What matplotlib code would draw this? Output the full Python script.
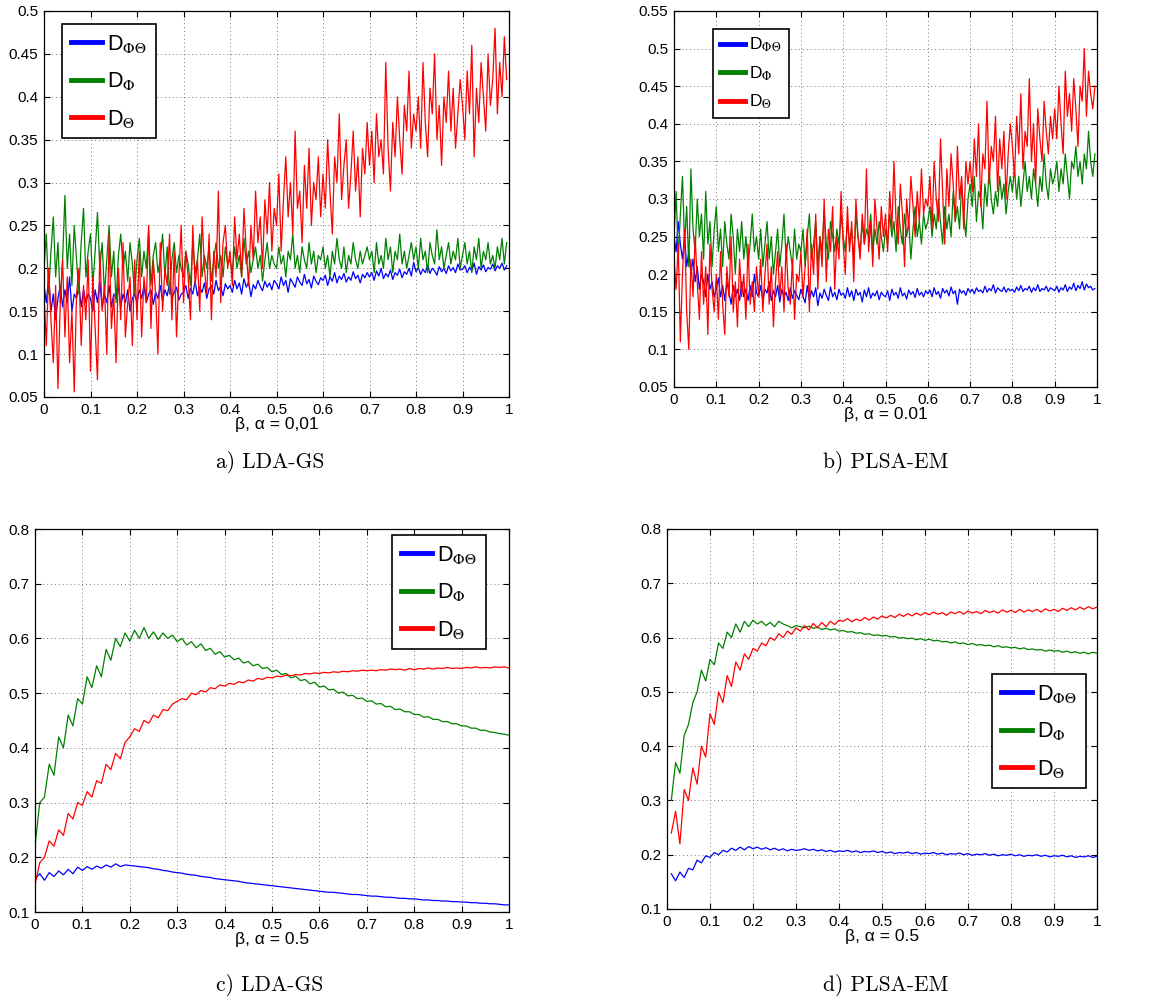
import numpy as np
import matplotlib
matplotlib.use("Agg")
import matplotlib.pyplot as plt

plt.rcParams["font.family"] = ["Liberation Sans", "DejaVu Sans"]
plt.rcParams["mathtext.fontset"] = "stix"

# ---------------- data ----------------
beta_top = np.round(np.arange(0, 200) * 0.005, 3)         # 0.000 .. 0.995
beta_c = np.round(np.arange(0, 101) * 0.01, 2)            # 0.00 .. 1.00
beta_d = np.round(np.arange(1, 101) * 0.01, 2)            # 0.01 .. 1.00

# a) LDA-GS, alpha = 0.01
a_phitheta = [
    0.18, 0.16, 0.19, 0.15, 0.17, 0.14, 0.165, 0.18, 0.155, 0.175, 0.16, 0.19, 0.15, 0.17, 0.165, 0.18, 0.155, 0.175, 0.16, 0.17,
    0.165, 0.15, 0.175, 0.16, 0.185, 0.155, 0.17, 0.16, 0.18, 0.155, 0.17, 0.165, 0.18, 0.155, 0.17, 0.16, 0.175, 0.15, 0.165, 0.17,
    0.16, 0.175, 0.165, 0.18, 0.16, 0.17, 0.175, 0.158, 0.172, 0.165, 0.18, 0.162, 0.175, 0.168, 0.183, 0.165, 0.172, 0.178, 0.163, 0.17,
    0.172, 0.18, 0.165, 0.177, 0.17, 0.185, 0.168, 0.178, 0.172, 0.183, 0.165, 0.176, 0.18, 0.17, 0.186, 0.174, 0.179, 0.168, 0.182, 0.176,
    0.18, 0.172, 0.186, 0.176, 0.183, 0.17, 0.188, 0.178, 0.184, 0.167, 0.181, 0.176, 0.186, 0.179, 0.174, 0.185, 0.178, 0.183, 0.175, 0.186,
    0.182, 0.176, 0.19, 0.18, 0.186, 0.172, 0.188, 0.183, 0.178, 0.19, 0.184, 0.18, 0.193, 0.182, 0.187, 0.177, 0.191, 0.185, 0.181, 0.189,
    0.186, 0.192, 0.18, 0.19, 0.185, 0.195, 0.183, 0.191, 0.187, 0.194, 0.184, 0.19, 0.186, 0.196, 0.188, 0.192, 0.183, 0.193, 0.189, 0.195,
    0.19, 0.195, 0.186, 0.197, 0.191, 0.2, 0.188, 0.194, 0.19, 0.198, 0.187, 0.195, 0.192, 0.199, 0.189, 0.196, 0.193, 0.2, 0.191, 0.207,
    0.196, 0.201, 0.193, 0.199, 0.195, 0.204, 0.194, 0.2, 0.197, 0.192, 0.202, 0.196, 0.2, 0.194, 0.203, 0.197, 0.201, 0.195, 0.205, 0.198,
    0.199, 0.203, 0.195, 0.201, 0.197, 0.206, 0.193, 0.202, 0.198, 0.204, 0.196, 0.201, 0.199, 0.205, 0.197, 0.203, 0.2, 0.206, 0.198, 0.203]
a_phi = [
    0.20, 0.24, 0.17, 0.22, 0.26, 0.19, 0.23, 0.16, 0.21, 0.285, 0.20, 0.24, 0.18, 0.25, 0.21, 0.17, 0.23, 0.27, 0.19, 0.22,
    0.24, 0.18, 0.22, 0.265, 0.20, 0.23, 0.17, 0.21, 0.25, 0.19, 0.22, 0.16, 0.215, 0.24, 0.20, 0.22, 0.185, 0.23, 0.205, 0.17,
    0.21, 0.235, 0.19, 0.22, 0.20, 0.245, 0.18, 0.215, 0.23, 0.195, 0.21, 0.24, 0.19, 0.225, 0.17, 0.21, 0.23, 0.195, 0.215, 0.20,
    0.19, 0.22, 0.205, 0.18, 0.23, 0.195, 0.21, 0.24, 0.19, 0.215, 0.20, 0.225, 0.185, 0.21, 0.23, 0.20, 0.215, 0.19, 0.225, 0.205,
    0.21, 0.195, 0.225, 0.20, 0.215, 0.19, 0.235, 0.205, 0.22, 0.195, 0.21, 0.225, 0.20, 0.215, 0.185, 0.21, 0.23, 0.20, 0.215, 0.205,
    0.20, 0.225, 0.205, 0.215, 0.19, 0.22, 0.21, 0.24, 0.20, 0.215, 0.195, 0.225, 0.21, 0.20, 0.23, 0.205, 0.22, 0.195, 0.215, 0.21,
    0.225, 0.20, 0.215, 0.19, 0.22, 0.205, 0.235, 0.21, 0.20, 0.225, 0.195, 0.215, 0.205, 0.23, 0.21, 0.20, 0.22, 0.205, 0.215, 0.225,
    0.21, 0.22, 0.195, 0.23, 0.205, 0.215, 0.20, 0.235, 0.21, 0.225, 0.195, 0.22, 0.21, 0.24, 0.205, 0.22, 0.20, 0.215, 0.23, 0.21,
    0.225, 0.20, 0.235, 0.21, 0.22, 0.195, 0.23, 0.215, 0.205, 0.245, 0.21, 0.225, 0.20, 0.215, 0.23, 0.205, 0.22, 0.21, 0.235, 0.20,
    0.215, 0.23, 0.205, 0.22, 0.195, 0.225, 0.21, 0.235, 0.20, 0.22, 0.21, 0.23, 0.205, 0.215, 0.20, 0.225, 0.21, 0.235, 0.205, 0.23]
a_theta = [
    0.17, 0.11, 0.20, 0.14, 0.09, 0.18, 0.06, 0.16, 0.21, 0.12, 0.19, 0.09, 0.15, 0.056, 0.17, 0.20, 0.11, 0.18, 0.14, 0.21,
    0.08, 0.19, 0.13, 0.07, 0.22, 0.15, 0.18, 0.10, 0.24, 0.13, 0.17, 0.09, 0.20, 0.14, 0.23, 0.12, 0.16, 0.19, 0.11, 0.21,
    0.14, 0.22, 0.12, 0.19, 0.16, 0.25, 0.13, 0.21, 0.17, 0.10, 0.23, 0.15, 0.20, 0.18, 0.24, 0.14, 0.22, 0.12, 0.19, 0.25,
    0.16, 0.22, 0.19, 0.14, 0.25, 0.18, 0.21, 0.15, 0.26, 0.20, 0.17, 0.24, 0.14, 0.22, 0.19, 0.29, 0.16, 0.23, 0.25, 0.20,
    0.22, 0.18, 0.26, 0.21, 0.24, 0.19, 0.27, 0.22, 0.18, 0.25, 0.21, 0.29, 0.23, 0.26, 0.20, 0.28, 0.24, 0.30, 0.22, 0.27,
    0.25, 0.31, 0.22, 0.28, 0.33, 0.26, 0.30, 0.24, 0.36, 0.27, 0.29, 0.23, 0.32, 0.27, 0.34, 0.25, 0.30, 0.28, 0.33, 0.26,
    0.31, 0.27, 0.35, 0.29, 0.24, 0.33, 0.30, 0.38, 0.28, 0.32, 0.35, 0.27, 0.31, 0.36, 0.29, 0.33, 0.26, 0.34, 0.31, 0.37,
    0.32, 0.36, 0.30, 0.38, 0.33, 0.35, 0.31, 0.44, 0.34, 0.29, 0.37, 0.33, 0.40, 0.35, 0.31, 0.39, 0.36, 0.43, 0.34, 0.38,
    0.36, 0.40, 0.34, 0.44, 0.37, 0.33, 0.41, 0.38, 0.45, 0.35, 0.39, 0.32, 0.40, 0.37, 0.43, 0.36, 0.41, 0.34, 0.38, 0.42,
    0.39, 0.35, 0.43, 0.38, 0.46, 0.33, 0.41, 0.37, 0.44, 0.40, 0.36, 0.45, 0.39, 0.42, 0.48, 0.38, 0.44, 0.40, 0.47, 0.42]

# b) PLSA-EM, alpha = 0.01
b_phitheta = [
    0.25, 0.23, 0.27, 0.24, 0.22, 0.25, 0.21, 0.23, 0.20, 0.22, 0.19, 0.21, 0.18, 0.20, 0.19, 0.17, 0.20, 0.18, 0.19, 0.17,
    0.18, 0.195, 0.17, 0.185, 0.165, 0.19, 0.175, 0.16, 0.185, 0.17, 0.18, 0.165, 0.19, 0.17, 0.18, 0.165, 0.185, 0.17, 0.20, 0.175,
    0.17, 0.185, 0.165, 0.18, 0.175, 0.19, 0.165, 0.178, 0.17, 0.185, 0.163, 0.18, 0.17, 0.176, 0.165, 0.182, 0.168, 0.178, 0.172, 0.166,
    0.18, 0.17, 0.162, 0.185, 0.165, 0.178, 0.17, 0.182, 0.158, 0.175, 0.168, 0.18, 0.172, 0.165, 0.183, 0.17, 0.176, 0.166, 0.18, 0.172,
    0.175, 0.168, 0.182, 0.17, 0.178, 0.165, 0.18, 0.172, 0.176, 0.163, 0.179, 0.17, 0.182, 0.168, 0.175, 0.171, 0.178, 0.166, 0.176, 0.172,
    0.17, 0.178, 0.165, 0.18, 0.172, 0.176, 0.168, 0.182, 0.171, 0.175, 0.167, 0.179, 0.173, 0.177, 0.169, 0.181, 0.172, 0.176, 0.17, 0.178,
    0.174, 0.179, 0.17, 0.182, 0.173, 0.177, 0.168, 0.181, 0.175, 0.179, 0.171, 0.183, 0.174, 0.178, 0.16, 0.18, 0.175, 0.178, 0.172, 0.181,
    0.176, 0.18, 0.174, 0.182, 0.177, 0.179, 0.175, 0.184, 0.176, 0.181, 0.178, 0.186, 0.175, 0.182, 0.179, 0.177, 0.183, 0.176, 0.181, 0.178,
    0.18, 0.176, 0.183, 0.178, 0.185, 0.177, 0.181, 0.179, 0.184, 0.176, 0.182, 0.178, 0.186, 0.177, 0.181, 0.179, 0.184, 0.177, 0.182, 0.18,
    0.178, 0.184, 0.176, 0.182, 0.179, 0.186, 0.177, 0.183, 0.18, 0.188, 0.178, 0.185, 0.181, 0.19, 0.179, 0.187, 0.182, 0.184, 0.179, 0.181]
b_phi = [
    0.25, 0.31, 0.22, 0.28, 0.33, 0.24, 0.29, 0.21, 0.34, 0.26, 0.23, 0.30, 0.25, 0.28, 0.22, 0.31, 0.24, 0.27, 0.21, 0.26,
    0.29, 0.23, 0.26, 0.21, 0.27, 0.24, 0.22, 0.28, 0.25, 0.20, 0.26, 0.23, 0.27, 0.22, 0.25, 0.21, 0.24, 0.28, 0.23, 0.25,
    0.22, 0.26, 0.21, 0.24, 0.27, 0.22, 0.25, 0.20, 0.23, 0.26, 0.21, 0.24, 0.28, 0.22, 0.25, 0.23, 0.21, 0.26, 0.22, 0.24,
    0.23, 0.26, 0.21, 0.25, 0.28, 0.22, 0.24, 0.27, 0.21, 0.25, 0.23, 0.285, 0.24, 0.22, 0.27, 0.25, 0.23, 0.26, 0.24, 0.28,
    0.25, 0.23, 0.27, 0.24, 0.26, 0.22, 0.28, 0.25, 0.23, 0.27, 0.24, 0.26, 0.25, 0.28, 0.23, 0.26, 0.24, 0.27, 0.25, 0.23,
    0.26, 0.24, 0.28, 0.25, 0.27, 0.23, 0.29, 0.26, 0.24, 0.28, 0.25, 0.27, 0.22, 0.26, 0.29, 0.25, 0.27, 0.24, 0.28, 0.26,
    0.27, 0.29, 0.25, 0.28, 0.26, 0.30, 0.27, 0.24, 0.29, 0.26, 0.28, 0.25, 0.31, 0.27, 0.29, 0.26, 0.32, 0.28, 0.25, 0.30,
    0.32, 0.29, 0.33, 0.27, 0.31, 0.30, 0.26, 0.32, 0.29, 0.34, 0.30, 0.28, 0.31, 0.29, 0.33, 0.30, 0.32, 0.28, 0.31, 0.33,
    0.31, 0.34, 0.30, 0.33, 0.29, 0.32, 0.35, 0.31, 0.33, 0.30, 0.34, 0.32, 0.29, 0.33, 0.31, 0.36, 0.32, 0.30, 0.34, 0.32,
    0.33, 0.35, 0.31, 0.34, 0.32, 0.36, 0.33, 0.30, 0.35, 0.34, 0.37, 0.33, 0.35, 0.32, 0.36, 0.34, 0.39, 0.35, 0.33, 0.36]
b_theta = [
    0.22, 0.18, 0.24, 0.11, 0.20, 0.26, 0.15, 0.10, 0.22, 0.17, 0.25, 0.19, 0.14, 0.23, 0.16, 0.21, 0.12, 0.24, 0.18, 0.15,
    0.20, 0.14, 0.23, 0.16, 0.12, 0.21, 0.17, 0.25, 0.15, 0.19, 0.13, 0.22, 0.17, 0.20, 0.14, 0.24, 0.16, 0.19, 0.15, 0.21,
    0.17, 0.22, 0.15, 0.20, 0.24, 0.16, 0.21, 0.13, 0.19, 0.23, 0.17, 0.21, 0.15, 0.24, 0.18, 0.16, 0.22, 0.14, 0.20, 0.19,
    0.23, 0.17, 0.21, 0.26, 0.15, 0.24, 0.20, 0.28, 0.18, 0.25, 0.21, 0.30, 0.19, 0.26, 0.23, 0.29, 0.18, 0.25, 0.22, 0.31,
    0.24, 0.20, 0.29, 0.23, 0.27, 0.19, 0.30, 0.25, 0.22, 0.28, 0.24, 0.34, 0.23, 0.27, 0.21, 0.30, 0.26, 0.22, 0.29, 0.25,
    0.28, 0.23, 0.31, 0.26, 0.35, 0.27, 0.24, 0.32, 0.28, 0.21, 0.30, 0.26, 0.33, 0.29, 0.25, 0.31, 0.27, 0.34, 0.28, 0.30,
    0.29, 0.33, 0.26, 0.35, 0.30, 0.27, 0.38, 0.31, 0.24, 0.34, 0.29, 0.36, 0.32, 0.27, 0.37, 0.30, 0.33, 0.26, 0.35, 0.32,
    0.35, 0.31, 0.38, 0.33, 0.40, 0.29, 0.36, 0.34, 0.43, 0.32, 0.37, 0.35, 0.41, 0.31, 0.38, 0.34, 0.39, 0.30, 0.36, 0.40,
    0.37, 0.33, 0.41, 0.36, 0.44, 0.34, 0.39, 0.37, 0.46, 0.35, 0.40, 0.32, 0.42, 0.38, 0.35, 0.43, 0.39, 0.36, 0.41, 0.38,
    0.42, 0.38, 0.45, 0.40, 0.36, 0.47, 0.41, 0.44, 0.39, 0.46, 0.42, 0.37, 0.45, 0.43, 0.50, 0.41, 0.47, 0.44, 0.42, 0.45]

# c) LDA-GS, alpha = 0.5
c_phitheta = [0.16, 0.17, 0.158, 0.172, 0.165, 0.175, 0.168, 0.178, 0.17, 0.182,
              0.176, 0.183, 0.178, 0.184, 0.18, 0.186, 0.182, 0.188, 0.183, 0.186,
              0.185, 0.184, 0.183, 0.182, 0.181, 0.179, 0.178, 0.176, 0.175, 0.173,
              0.172, 0.171, 0.169, 0.168, 0.167, 0.165, 0.164, 0.163, 0.161, 0.16,
              0.159, 0.158, 0.157, 0.156, 0.154, 0.153, 0.152, 0.151, 0.15, 0.149,
              0.148, 0.147, 0.146, 0.145, 0.144, 0.143, 0.142, 0.141, 0.14, 0.139,
              0.138, 0.137, 0.136, 0.136, 0.135, 0.134, 0.133, 0.132, 0.132, 0.131,
              0.13, 0.129, 0.129, 0.128, 0.127, 0.127, 0.126, 0.125, 0.125, 0.124,
              0.124, 0.123, 0.122, 0.122, 0.121, 0.121, 0.12, 0.12, 0.119, 0.119,
              0.118, 0.118, 0.117, 0.117, 0.116, 0.116, 0.115, 0.115, 0.114, 0.113, 0.113]
c_phi = [0.22, 0.30, 0.31, 0.37, 0.35, 0.42, 0.40, 0.46, 0.44, 0.49,
         0.48, 0.53, 0.51, 0.55, 0.53, 0.58, 0.56, 0.60, 0.585, 0.61,
         0.595, 0.615, 0.60, 0.62, 0.60, 0.612, 0.598, 0.61, 0.60, 0.606,
         0.594, 0.60, 0.588, 0.594, 0.583, 0.59, 0.578, 0.582, 0.571, 0.576,
         0.566, 0.569, 0.561, 0.564, 0.555, 0.558, 0.55, 0.553, 0.545, 0.547,
         0.539, 0.542, 0.534, 0.536, 0.528, 0.531, 0.523, 0.525, 0.517, 0.52,
         0.511, 0.513, 0.506, 0.507, 0.5, 0.502, 0.495, 0.496, 0.49, 0.491,
         0.485, 0.486, 0.48, 0.481, 0.475, 0.476, 0.47, 0.471, 0.466, 0.466,
         0.461, 0.461, 0.456, 0.457, 0.452, 0.452, 0.448, 0.448, 0.444, 0.444,
         0.44, 0.44, 0.436, 0.436, 0.432, 0.432, 0.429, 0.428, 0.426, 0.425, 0.423]
c_theta = [0.15, 0.19, 0.20, 0.23, 0.22, 0.25, 0.24, 0.28, 0.27, 0.30,
           0.295, 0.32, 0.31, 0.34, 0.335, 0.37, 0.36, 0.39, 0.38, 0.41,
           0.42, 0.435, 0.43, 0.45, 0.445, 0.46, 0.455, 0.47, 0.468, 0.48,
           0.485, 0.49, 0.488, 0.50, 0.497, 0.505, 0.502, 0.51, 0.508, 0.515,
           0.513, 0.518, 0.516, 0.521, 0.519, 0.524, 0.522, 0.527, 0.525, 0.529,
           0.528, 0.531, 0.53, 0.533, 0.532, 0.534, 0.533, 0.536, 0.535, 0.537,
           0.536, 0.538, 0.537, 0.539, 0.538, 0.54, 0.539, 0.541, 0.54, 0.542,
           0.541, 0.542, 0.541, 0.543, 0.542, 0.544, 0.543, 0.544, 0.542, 0.545,
           0.543, 0.545, 0.544, 0.546, 0.544, 0.546, 0.545, 0.547, 0.545, 0.546,
           0.545, 0.547, 0.546, 0.548, 0.546, 0.547, 0.546, 0.548, 0.547, 0.548, 0.546]

# d) PLSA-EM, alpha = 0.5
d_phitheta = [0.165, 0.152, 0.168, 0.158, 0.175, 0.172, 0.19, 0.185, 0.198, 0.195,
              0.204, 0.2, 0.208, 0.205, 0.212, 0.208, 0.214, 0.209, 0.215, 0.211,
              0.214, 0.21, 0.213, 0.209, 0.212, 0.208, 0.211, 0.207, 0.21, 0.208,
              0.209, 0.211, 0.208, 0.21, 0.207, 0.209, 0.206, 0.208, 0.205, 0.207,
              0.206, 0.208, 0.205, 0.207, 0.204, 0.206, 0.205, 0.207, 0.204, 0.206,
              0.203, 0.205, 0.202, 0.204, 0.203, 0.205, 0.202, 0.204, 0.201, 0.203,
              0.202, 0.204, 0.201, 0.203, 0.2, 0.202, 0.201, 0.203, 0.2, 0.202,
              0.199, 0.201, 0.2, 0.202, 0.199, 0.201, 0.198, 0.2, 0.199, 0.201,
              0.198, 0.2, 0.197, 0.199, 0.198, 0.2, 0.197, 0.199, 0.196, 0.198,
              0.197, 0.199, 0.196, 0.198, 0.195, 0.197, 0.196, 0.198, 0.195, 0.197]
d_phi = [0.30, 0.37, 0.35, 0.42, 0.44, 0.48, 0.50, 0.54, 0.52, 0.56,
         0.55, 0.59, 0.58, 0.61, 0.60, 0.625, 0.61, 0.63, 0.62, 0.632,
         0.625, 0.63, 0.622, 0.628, 0.62, 0.63, 0.625, 0.622, 0.618, 0.622,
         0.62, 0.618, 0.621, 0.617, 0.619, 0.615, 0.617, 0.614, 0.616, 0.612,
         0.613, 0.61, 0.611, 0.608, 0.609, 0.606, 0.607, 0.604, 0.605, 0.603,
         0.604, 0.601, 0.602, 0.599, 0.6, 0.598, 0.599, 0.596, 0.598, 0.595,
         0.597, 0.594, 0.595, 0.592, 0.593, 0.59, 0.592, 0.589, 0.59, 0.587,
         0.589, 0.586, 0.587, 0.585, 0.586, 0.583, 0.585, 0.582, 0.583, 0.581,
         0.582, 0.579, 0.581, 0.578, 0.579, 0.577, 0.578, 0.575, 0.577, 0.575,
         0.576, 0.573, 0.575, 0.572, 0.574, 0.571, 0.573, 0.57, 0.573, 0.571]
d_theta = [0.24, 0.28, 0.22, 0.32, 0.30, 0.36, 0.33, 0.40, 0.38, 0.46,
           0.44, 0.50, 0.48, 0.53, 0.51, 0.555, 0.54, 0.57, 0.56, 0.58,
           0.575, 0.59, 0.585, 0.60, 0.595, 0.607, 0.60, 0.612, 0.606, 0.618,
           0.612, 0.622, 0.614, 0.626, 0.618, 0.628, 0.62, 0.63, 0.624, 0.632,
           0.63, 0.635, 0.629, 0.634, 0.631, 0.637, 0.632, 0.638, 0.634, 0.64,
           0.636, 0.641, 0.637, 0.643, 0.639, 0.644, 0.64, 0.645, 0.641, 0.646,
           0.642, 0.647, 0.643, 0.646, 0.641, 0.647, 0.644, 0.648, 0.643, 0.649,
           0.645, 0.648, 0.644, 0.65, 0.646, 0.649, 0.645, 0.651, 0.647, 0.65,
           0.646, 0.652, 0.647, 0.651, 0.648, 0.652, 0.647, 0.653, 0.649, 0.652,
           0.648, 0.654, 0.65, 0.655, 0.651, 0.656, 0.652, 0.657, 0.653, 0.656]

series_labels = [r"D$_{\Phi\Theta}$", r"D$_{\Phi}$", r"D$_{\Theta}$"]
series_colors = ["#0000ff", "#008000", "#ff0000"]

x_ticks = [0, 0.1, 0.2, 0.3, 0.4, 0.5, 0.6, 0.7, 0.8, 0.9, 1]
x_ticklabels = ["0", "0.1", "0.2", "0.3", "0.4", "0.5", "0.6", "0.7", "0.8", "0.9", "1"]
y_ticks_a = [0.05, 0.1, 0.15, 0.2, 0.25, 0.3, 0.35, 0.4, 0.45, 0.5]
y_ticklabels_a = ["0.05", "0.1", "0.15", "0.2", "0.25", "0.3", "0.35", "0.4", "0.45", "0.5"]
y_ticks_b = [0.05, 0.1, 0.15, 0.2, 0.25, 0.3, 0.35, 0.4, 0.45, 0.5, 0.55]
y_ticklabels_b = ["0.05", "0.1", "0.15", "0.2", "0.25", "0.3", "0.35", "0.4", "0.45", "0.5", "0.55"]
y_ticks_cd = [0.1, 0.2, 0.3, 0.4, 0.5, 0.6, 0.7, 0.8]
y_ticklabels_cd = ["0.1", "0.2", "0.3", "0.4", "0.5", "0.6", "0.7", "0.8"]

x_labels = ["β, α = 0,01", "β, α = 0.01", "β, α = 0.5", "β, α = 0.5"]
captions = ["a) LDA-GS", "b) PLSA-EM", "c) LDA-GS", "d) PLSA-EM"]

# ---------------- figure ----------------
W, H = 1153, 1001
fig = plt.figure(figsize=(W / 100, H / 100), dpi=100)


def px_axes(x0, y0, x1, y1):
    return fig.add_axes([x0 / W, 1 - y1 / H, (x1 - x0) / W, (y1 - y0) / H])


panels = [
    dict(rect=(44, 11, 509, 397), x=beta_top, ys=(a_phitheta, a_phi, a_theta),
         yt=y_ticks_a, ytl=y_ticklabels_a, ylim=(0.05, 0.5),
         leg=dict(loc="upper left", anchor=(0.039, 0.966), size=15.5, sp=0.72)),
    dict(rect=(674, 11, 1097, 387), x=beta_top, ys=(b_phitheta, b_phi, b_theta),
         yt=y_ticks_b, ytl=y_ticklabels_b, ylim=(0.05, 0.55),
         leg=dict(loc="upper left", anchor=(0.092, 0.952), size=12.5, sp=0.57)),
    dict(rect=(35, 529, 509, 912), x=beta_c, ys=(c_phitheta, c_phi, c_theta),
         yt=y_ticks_cd, ytl=y_ticklabels_cd, ylim=(0.1, 0.8),
         leg=dict(loc="upper right", anchor=(0.951, 0.984), size=15.5, sp=0.72)),
    dict(rect=(667, 529, 1097, 909), x=beta_d, ys=(d_phitheta, d_phi, d_theta),
         yt=y_ticks_cd, ytl=y_ticklabels_cd, ylim=(0.1, 0.8),
         leg=dict(loc="upper right", anchor=(0.974, 0.618), size=15.5, sp=0.72)),
]

for i, p in enumerate(panels):
    ax = px_axes(*p["rect"])
    for ys, lab, col in zip(p["ys"], series_labels, series_colors):
        ax.plot(p["x"], ys, color=col, lw=0.9, label=lab)
    ax.set_xlim(0, 1)
    ax.set_ylim(*p["ylim"])
    ax.set_xticks(x_ticks)
    ax.set_xticklabels(x_ticklabels)
    ax.set_yticks(p["yt"])
    ax.set_yticklabels(p["ytl"])
    ax.tick_params(direction="in", top=True, right=True, length=4, width=0.8,
                   labelsize=11, pad=4, colors="black")
    ax.grid(True, linestyle=(0, (1, 3)), color="#777777", linewidth=0.7)
    for s in ax.spines.values():
        s.set_linewidth(0.9)
    ax.set_xlabel(x_labels[i], fontsize=12.5, labelpad=0)
    lg = p["leg"]
    leg = ax.legend(loc=lg["loc"], bbox_to_anchor=lg["anchor"], borderaxespad=0,
                    fontsize=lg["size"], handlelength=1.45, handletextpad=0.25,
                    labelspacing=lg["sp"], borderpad=0.4, fancybox=False,
                    framealpha=1, edgecolor="black")
    leg.get_frame().set_linewidth(1.2)
    for h in leg.get_lines():
        h.set_linewidth(3.5)

caption_pos = [(270, 462), (886, 462), (270, 985), (886, 985)]
for (cx, cy), txt in zip(caption_pos, captions):
    fig.text(cx / W, 1 - cy / H, txt, ha="center", va="center",
             fontsize=15.5, family="cmr10")

fig.savefig("out.png", dpi=100)
